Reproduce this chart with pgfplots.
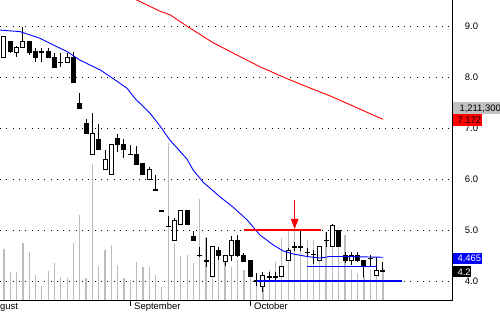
\documentclass[border=0pt]{standalone}
\usepackage{pgfplots}
\pgfplotsset{compat=1.18}
\usepackage{pgfplotstable}
\usepackage{fontspec}
\setmainfont{Liberation Sans}
\usetikzlibrary{arrows.meta}
\definecolor{volgray}{RGB}{188,188,188}
\definecolor{boxgray}{RGB}{192,192,192}
\definecolor{mablue}{RGB}{0,0,255}
\definecolor{mared}{RGB}{255,0,0}

\pgfplotstableread{
i o h l c
0 8.386 8.80 8.38 8.790
1 8.690 8.70 8.48 8.496
2 8.485 8.60 8.398 8.583
3 8.588 8.986 8.58 8.692
4 8.692 8.70 8.432 8.490
5 8.496 8.563 8.30 8.386
6 8.496 8.575 8.30 8.496
7 8.496 8.563 8.37 8.386
8 8.386 8.465 8.18 8.190
9 8.288 8.465 8.202 8.288
10 8.288 8.477 8.28 8.386
11 8.386 8.490 7.88 7.888
12 7.484 7.680 7.38 7.386
13 7.092 7.183 6.89 6.896
14 6.490 7.285 6.48 6.896
15 6.779 7.079 6.57 6.583
16 6.190 6.569 6.18 6.386
17 6.079 6.690 6.07 6.680
18 6.798 6.883 6.53 6.686
19 6.680 6.779 6.406 6.583
20 6.485 6.667 6.485 6.485
21 6.490 6.647 6.27 6.275
22 6.294 6.300 6.07 6.092
23 5.994 6.235 5.99 6.190
24 5.785 6.079 5.785 5.785
25 5.379 5.379 5.379 5.379
26 5.078 5.284 5.078 5.078
27 4.790 5.235 4.79 5.186
28 5.098 5.380 5.09 5.379
29 5.379 5.380 5.09 5.098
30 4.877 4.980 4.79 4.790
31 4.500 4.673 4.47 4.500
32 4.392 4.843 4.265 4.392
33 4.092 4.690 4.08 4.673
34 4.594 4.661 4.412 4.490
35 4.386 4.500 4.294 4.490
36 4.490 4.882 4.382 4.794
37 4.794 4.892 4.48 4.490
38 4.490 4.539 4.37 4.382
39 4.392 4.400 4.08 4.088
40 4.000 4.163 3.902 4.000
41 3.888 4.182 3.79 4.098
42 4.084 4.182 4.006 4.084
43 4.084 4.182 4.006 4.084
44 4.084 4.290 4.08 4.280
45 4.392 4.647 4.39 4.588
46 4.673 4.771 4.582 4.673
47 4.673 4.980 4.582 4.673
48 4.563 4.641 4.496 4.563
49 4.520 4.598 4.324 4.520
50 4.392 4.690 4.39 4.680
51 4.798 4.955 4.673 4.798
52 4.673 5.108 4.67 5.082
53 4.994 5.000 4.67 4.673
54 4.490 4.575 4.353 4.392
55 4.392 4.575 4.314 4.490
56 4.490 4.575 4.37 4.392
57 4.392 4.400 4.084 4.294
58 4.445 4.510 4.30 4.445
59 4.098 4.477 4.09 4.202
60 4.200 4.379 4.20 4.200
}\candles

\pgfplotstableread{
i v
0 1919
1 1071
2 1071
3 2169
4 1817
5 958
6 541
7 1086
8 1412
9 882
10 844
11 2169
12 3217
13 821
14 5148
15 1298
16 1904
17 2082
18 1325
19 844
20 757
21 1438
22 1238
23 1260
24 946
25 503
26 5931
27 2169
28 1665
29 1703
30 1389
31 3811
32 2403
33 1173
34 1703
35 1476
36 1260
37 1514
38 1136
39 1476
40 882
41 681
42 1136
43 1438
44 2335
45 2650
46 2903
47 2525
48 2271
49 2271
50 2017
51 2574
52 2422
53 2396
54 2460
55 1136
56 1033
57 908
58 1136
59 946
60 1211
}\vol

\pgfplotstableread{
i p
-0.63 8.92
2.53 8.89
5.70 8.76
7.76 8.63
9.98 8.50
12.04 8.33
15.20 8.14
17.26 7.97
19.48 7.78
20.74 7.58
23.12 7.29
24.70 7.04
26.29 6.76
28.98 6.39
29.93 6.18
31.51 5.94
34.20 5.65
36.26 5.45
38.48 5.20
40.54 4.90
42.60 4.71
44.18 4.59
45.76 4.53
47.98 4.48
50.04 4.45
51.62 4.48
54.00 4.48
60.02 4.465
}\mab

\pgfplotstableread{
i p
19.95 9.57
21.01 9.51
24.70 9.29
26.29 9.22
28.93 9.00
33.14 8.67
37.37 8.40
40.54 8.20
44.77 7.97
47.93 7.81
51.62 7.63
56.37 7.37
59.97 7.172
}\mar

\begin{document}
\begin{tikzpicture}
\useasboundingbox (0,0) rectangle (500bp,312bp);
\pgfplotsset{common/.style={at={(0bp,12bp)}, anchor=south west, scale only axis,
  width=452.7bp, height=300bp, xmin=-0.633, xmax=71.05}}
\begin{axis}[common, ymin=0, ymax=11355, hide axis]
\addplot[ycomb, draw=volgray, line width=1.2bp] table[x=i,y=v]{\vol};
\end{axis}
\begin{axis}[common, ymin=3.627, ymax=9.51,
  axis x line*=bottom, axis y line*=right,
  axis line style={black, line width=1bp},
  ytick={4,5,6,7,8,9}, yticklabels={4.0,5.0,6.0,7.0,8.0,9.0},
  ytick style={draw=none},
  xtick={20,39}, xticklabels={September,October},
  xtick style={black, line width=1bp},
  tick align=outside, major tick length=6bp,
  ymajorgrids, grid style={black, line width=0.9bp, dash pattern=on 0.9bp off 5.415bp},
  tick label style={font=\fontsize{9.5}{11}\selectfont},
  yticklabel style={anchor=west, inner sep=0pt, xshift=6bp},
  xticklabel style={anchor=base west, inner sep=0pt, xshift=3.7bp, yshift=-3bp},
]
% wicks
\addplot[draw=none, forget plot, error bars/.cd, y dir=both, y explicit, error mark=none,
  error bar style={draw=black, line width=1bp}]
  table[x=i, y expr={(\thisrow{h}+\thisrow{l})/2}, y error expr={(\thisrow{h}-\thisrow{l})/2}]{\candles};
% bodies (outer)
\addplot[draw=none, forget plot, error bars/.cd, y dir=both, y explicit, error mark=none,
  error bar style={draw=black, line width=5bp}]
  table[x=i, y expr={(\thisrow{o}+\thisrow{c})/2}, y error expr={abs(\thisrow{c}-\thisrow{o})/2+0.0098}]{\candles};
% hollow inside for rising candles
\addplot[draw=none, forget plot, error bars/.cd, y dir=both, y explicit, error mark=none,
  error bar style={draw=white, line width=3bp}]
  table[x=i, y expr={(\thisrow{o}+\thisrow{c})/2}, y error expr={ifthenelse(\thisrow{c}>\thisrow{o}, max(abs(\thisrow{c}-\thisrow{o})/2-0.0098,0), 0)}]{\candles};
% moving averages
\addplot[mablue, line width=0.9bp] table[x=i,y=p]{\mab};
\addplot[mared, line width=0.9bp] table[x=i,y=p]{\mar};
% annotation lines
\addplot[mared, line width=2.4bp] coordinates {(38.0,5.0) (50.2,5.0)};
\addplot[mablue, line width=2.4bp] coordinates {(40.02,4.0) (62.98,4.0)};
\addplot[mablue, line width=0.9bp] coordinates {(47.98,4.29) (59.06,4.29)};
\addplot[mared, line width=1.4bp, -{Triangle[width=7.3bp,length=10bp]}] coordinates {(46.03,5.59) (46.03,5.02)};
\end{axis}
\node[anchor=base west, inner sep=0pt, font=\fontsize{9.5}{11}\selectfont] at (-11.6bp,3bp) {August};
\fill[boxgray] (453bp,198.3bp) rectangle (500bp,210.3bp);
\node[anchor=base west, inner sep=0pt, font=\fontsize{9.5}{11}\selectfont] at (459.3bp,200.9bp) {1,211,300};
\fill[mared] (453bp,186bp) rectangle (482.3bp,197.7bp);
\node[anchor=base west, inner sep=0pt, font=\fontsize{9.5}{11}\selectfont] at (457.3bp,188.4bp) {7.172};
\fill[mablue] (453bp,48bp) rectangle (482.3bp,59.3bp);
\node[anchor=base west, inner sep=0pt, text=white, font=\fontsize{9.5}{11}\selectfont] at (457.3bp,50.3bp) {4.465};
\fill[black] (453bp,34.7bp) rectangle (470.7bp,46bp);
\node[anchor=base west, inner sep=0pt, text=white, font=\fontsize{9.5}{11}\selectfont] at (457.3bp,37bp) {4.2};
\end{tikzpicture}
\end{document}
